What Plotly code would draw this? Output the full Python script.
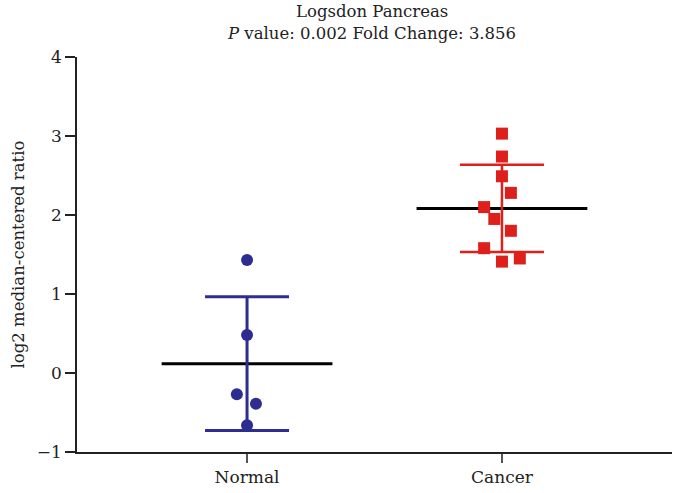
import numpy as np
import plotly.graph_objects as go

# Expression values (log2 median-centered ratio) per group
categories = ["Normal", "Cancer"]
normal_values = [1.43, 0.48, -0.27, -0.39, -0.66]
cancer_values = [3.03, 2.74, 2.49, 2.28, 2.10, 1.95, 1.80, 1.58, 1.41, 1.45]
y_ticks = [-1, 0, 1, 2, 3, 4]
title_lines = ["Logsdon Pancreas", "<i>P</i> value: 0.002 Fold Change: 3.856"]

# horizontal scatter spread of overlapping points (category units)
normal_jitter = [0.0, 0.0, -0.04, 0.035, 0.0]
cancer_jitter = [0.0, 0.0, 0.0, 0.035, -0.07, -0.03, 0.035, -0.07, 0.0, 0.07]

groups = [
    (normal_values, normal_jitter, "rgb(44,44,145)", "circle", 3),
    (cancer_values, cancer_jitter, "rgb(222,32,28)", "square", 2.5),
]

FONT = "DejaVu Serif"
TXT = "#222"
fig = go.Figure()

for i, (vals, jit, color, symbol, thick) in enumerate(groups):
    arr = np.array(vals)
    mean = arr.mean()
    sd = arr.std(ddof=1)
    # mean line
    fig.add_trace(go.Scatter(
        x=[i - 0.335, i + 0.335], y=[mean, mean], mode="lines",
        line=dict(color="black", width=3), hoverinfo="skip", showlegend=False))
    # mean +/- SD whiskers
    fig.add_trace(go.Scatter(
        x=[i], y=[mean], mode="markers", marker=dict(size=0.1, color=color, opacity=0),
        error_y=dict(type="constant", value=sd, color=color, thickness=thick, width=42),
        hoverinfo="skip", showlegend=False))
    # individual samples
    fig.add_trace(go.Scatter(
        x=[i + j for j in jit], y=vals, mode="markers",
        marker=dict(symbol=symbol, size=12, color=color, line=dict(width=0)),
        name=categories[i], showlegend=False))

# two-line heading above the plot area
for line, shift in zip(title_lines, [34, 12]):
    fig.add_annotation(text=line, xref="paper", yref="paper", x=0.495, y=1,
                       xanchor="center", yanchor="bottom", yshift=shift,
                       showarrow=False, font=dict(family=FONT, size=16.5, color=TXT))

fig.update_layout(
    width=677, height=493,
    margin=dict(l=77, r=5, t=57, b=41),
    paper_bgcolor="white", plot_bgcolor="white",
    font=dict(family=FONT, size=16, color=TXT),
)
fig.update_xaxes(
    range=[-0.667, 1.667], tickmode="array", tickvals=[0, 1], ticktext=categories,
    showline=True, linecolor=TXT, linewidth=1.5, ticks="outside", ticklen=9,
    tickwidth=1.5, tickcolor="#555", showgrid=False, zeroline=False,
    tickfont=dict(family=FONT, size=17, color=TXT))
fig.update_yaxes(
    range=[-1, 4], tickmode="array", tickvals=y_ticks,
    ticktext=[("\u2212" + str(abs(v))) if v < 0 else str(v) for v in y_ticks],
    showline=True, linecolor=TXT, linewidth=1.5, ticks="outside", ticklen=10,
    tickwidth=1.5, tickcolor=TXT, showgrid=False, zeroline=False,
    tickfont=dict(family=FONT, size=17, color=TXT),
    title=dict(text="log2 median-centered ratio", standoff=8,
               font=dict(family=FONT, size=16.5, color=TXT)))

fig.write_html("out.html")
